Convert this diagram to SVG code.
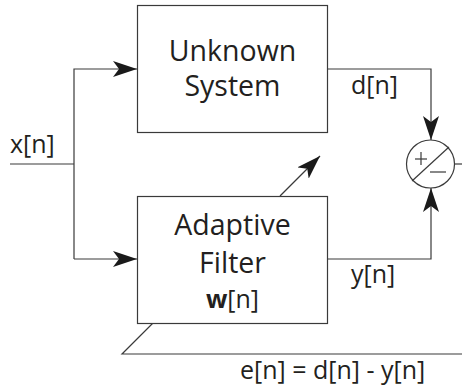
<svg xmlns="http://www.w3.org/2000/svg" width="462" height="388" viewBox="0 0 462 388">
  <defs>
    <style>
      .ln { fill: none; stroke: #3a3a3a; stroke-width: 1.2; }
      .box { fill: #fff; stroke: #3a3a3a; stroke-width: 1.2; }
      .big { font-family: "Open Sans", "Liberation Sans", sans-serif; font-size: 28.5px; fill: #231f20; text-anchor: middle; }
      .lbl { font-family: "Open Sans", "Liberation Sans", sans-serif; font-size: 25px; fill: #231f20; }
    </style>
    <marker id="ah" viewBox="0 0 24 16" refX="24" refY="8" markerWidth="24" markerHeight="16" markerUnits="userSpaceOnUse" orient="auto">
      <path d="M0,0 L24,8 L0,16 L6,8 Z" fill="#1a1a1a"/>
    </marker>
  </defs>

  <!-- connectors -->
  <g id="connectors">
    <line class="ln" x1="10" y1="164" x2="74" y2="164"/>
    <polyline class="ln" points="74,259 74,69 137,69" marker-end="url(#ah)"/>
    <line class="ln" x1="74" y1="259" x2="137" y2="259" marker-end="url(#ah)"/>
    <polyline class="ln" points="328,69 431,69 431,140" marker-end="url(#ah)"/>
    <polyline class="ln" points="328,259 431,259 431,188" marker-end="url(#ah)"/>
    <line class="ln" x1="455" y1="164" x2="462" y2="164"/>
    <!-- adaptation arrow across the filter -->
    <line class="ln" x1="280" y1="196" x2="320" y2="156" marker-end="url(#ah)"/>
    <!-- error feedback line -->
    <polyline class="ln" points="462,354 122,354 153,323"/>
  </g>

  <g id="unknown-system">
    <rect class="box" x="137.5" y="5.5" width="190" height="127"/>
    <text class="big" x="232.5" y="61">Unknown</text>
    <text class="big" x="232.5" y="96">System</text>
  </g>

  <g id="adaptive-filter">
    <rect class="box" x="137.5" y="196.5" width="190" height="127"/>
    <text class="big" x="232.5" y="235">Adaptive</text>
    <text class="big" x="232.5" y="273">Filter</text>
    <text class="lbl" x="232.5" y="308" text-anchor="middle"><tspan font-weight="bold">w</tspan>[n]</text>
  </g>

  <g id="summer">
    <circle class="box" cx="430.5" cy="164" r="24"/>
    <line class="ln" x1="412" y1="181" x2="449" y2="147"/>
    <line class="ln" x1="415" y1="159" x2="427" y2="159"/>
    <line class="ln" x1="421" y1="152" x2="421" y2="165"/>
    <line class="ln" x1="430" y1="172" x2="446" y2="172"/>
  </g>

  <g id="labels">
    <text class="lbl" x="10" y="153">x[n]</text>
    <text class="lbl" x="351" y="94">d[n]</text>
    <text class="lbl" x="351" y="283">y[n]</text>
    <text class="lbl" x="240" y="379">e[n] = d[n] - y[n]</text>
  </g>
</svg>
